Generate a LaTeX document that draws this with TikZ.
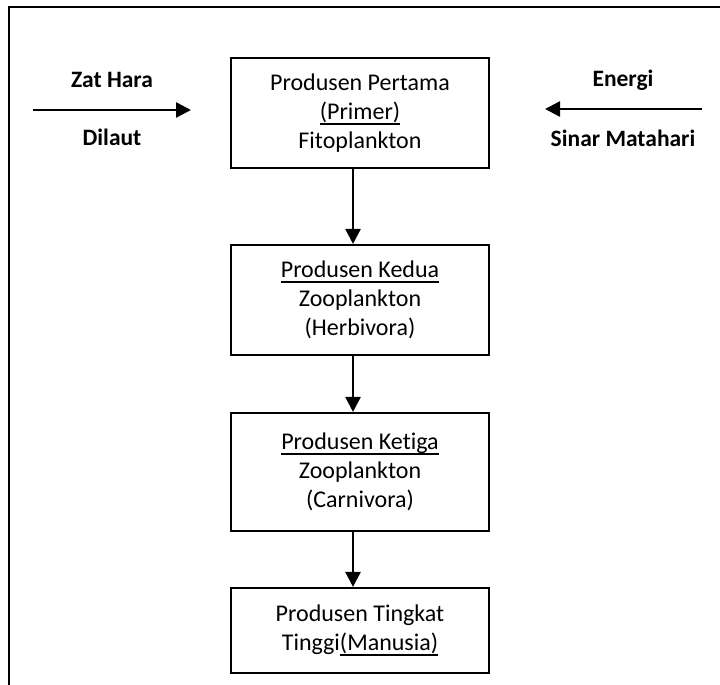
\documentclass[tikz,border=0pt]{standalone}
\usepackage{fontspec}
\setmainfont[Ligatures={NoCommon}]{Carlito}
\usetikzlibrary{arrows.meta}
\newcommand{\ulx}[1]{\setbox0=\hbox{#1}\rlap{\vrule height -3.6pt depth 5.6pt width \wd0}\box0}
\tikzset{
  box/.style={draw, line width=2.1pt, minimum width=258pt, align=center,
    font=\fontsize{24}{29}\selectfont, inner sep=0pt},
  lbl/.style={font=\fontsize{23.5}{29}\selectfont\bfseries, inner sep=0pt},
  arr/.style={line width=2.5pt, -{Triangle[length=15pt,width=15pt]}},
  frame/.style={line width=2.2pt}
}
\begin{document}
\begin{tikzpicture}[x=1pt,y=-1pt]
\useasboundingbox (0,0) rectangle (720,685);
\draw[frame] (9,685) -- (9,7) -- (720,7);
\node[box, minimum height=110pt] (b1) at (360,113) {Produsen Pertama\\\ulx{(Primer)}\\Fitoplankton};
\node[box, minimum height=110pt] (b2) at (360,300) {\ulx{Produsen Kedua}\\Zooplankton\\(Herbivora)};
\node[box, minimum height=118pt] (b3) at (360,472) {\ulx{Produsen Ketiga}\\Zooplankton\\(Carnivora)};
\node[box, minimum height=85pt] (b4) at (360,630.5) {Produsen Tingkat\\Tinggi\ulx{(Manusia)}};
\draw[arr] ([xshift=-7pt]b1.south) -- ([xshift=-7pt]b2.north);
\draw[arr] ([xshift=-7pt]b2.south) -- ([xshift=-7pt]b3.north);
\draw[arr] ([xshift=-7pt]b3.south) -- ([xshift=-7pt]b4.north);
\coordinate (la) at (33,110);
\coordinate (lb) at (191,110);
\coordinate (ra) at (702,109);
\coordinate (rb) at (545,109);
\draw[arr] (la) -- (lb);
\draw[arr] (ra) -- (rb);
\node[lbl] (zh) at (112,80) {Zat Hara};
\node[lbl] (dl) at (112,137) {Dilaut};
\node[lbl] (en) at (623,80) {Energi};
\node[lbl] (sm) at (623,138) {Sinar Matahari};
\end{tikzpicture}
\end{document}
